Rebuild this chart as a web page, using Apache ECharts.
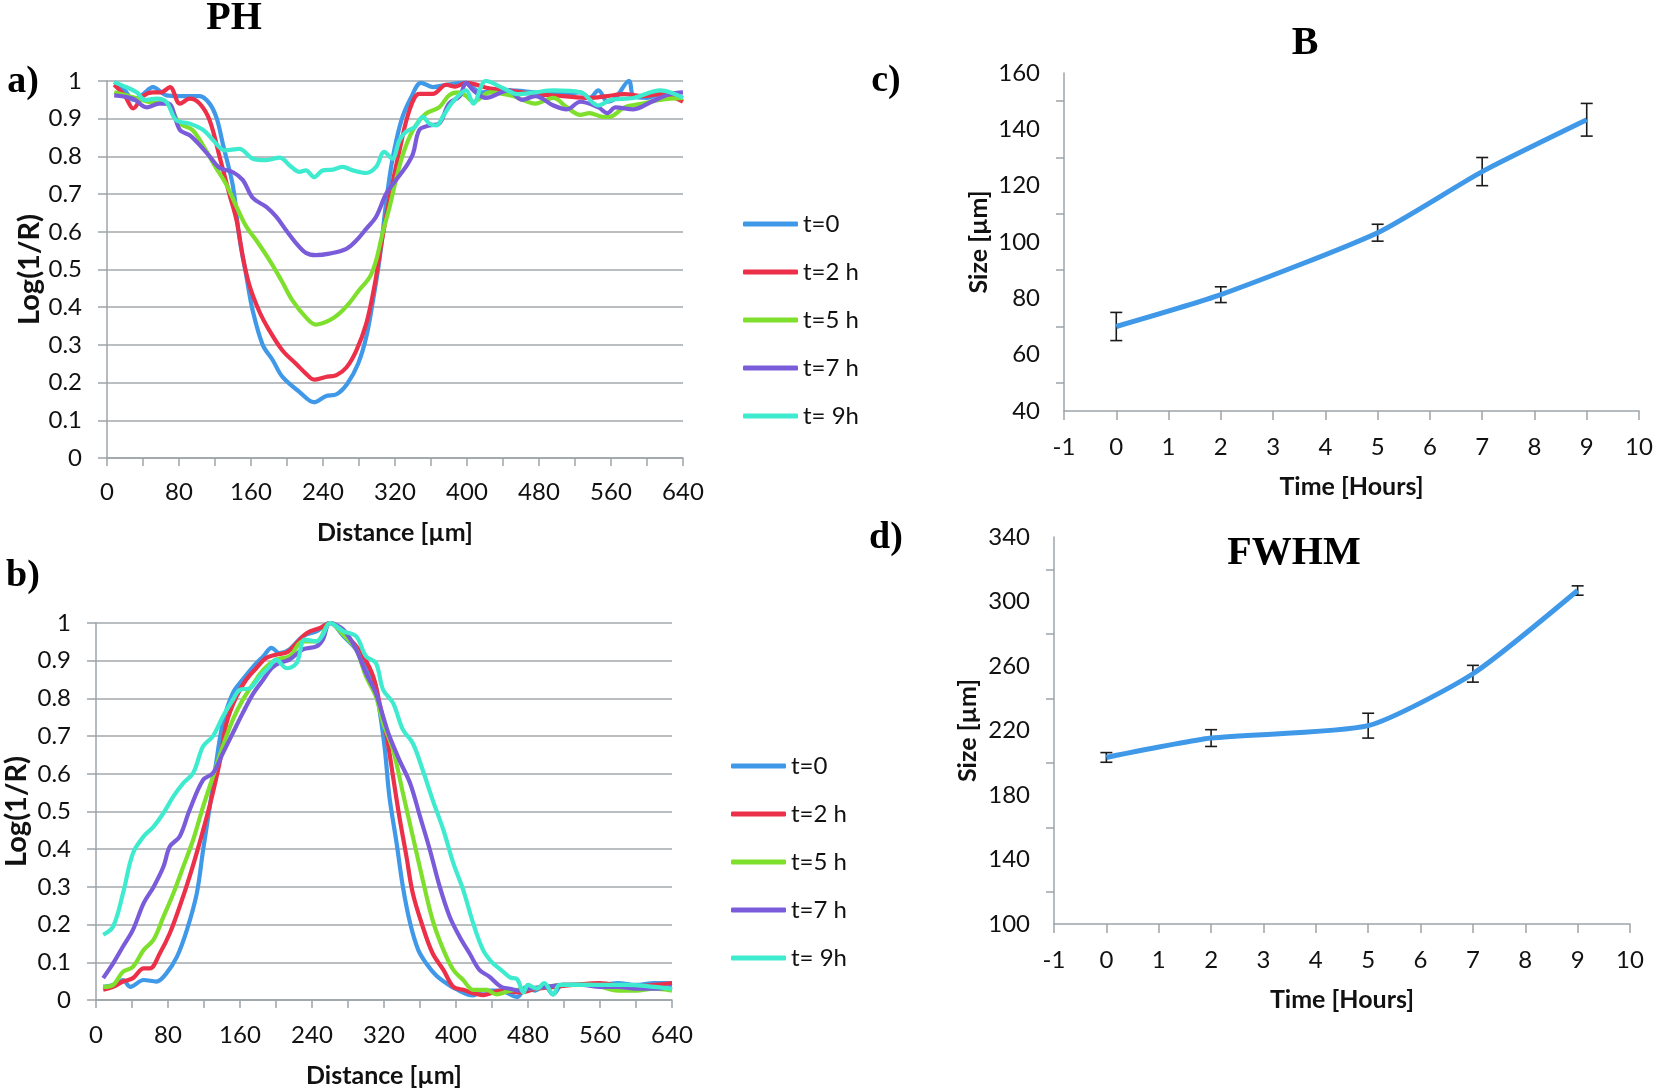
<!DOCTYPE html>
<html><head><meta charset="utf-8">
<script src="https://cdn.jsdelivr.net/npm/echarts@6/dist/echarts.min.js"></script>
<style>html,body{margin:0;padding:0;background:#fff}#c{width:1658px;height:1092px}</style>
</head><body><div id="c"></div>
<script>
const seriesNames = ['t=0', 't=2 h', 't=5 h', 't=7 h', 't= 9h'];
const seriesColors = ['#3F99E8', '#EC3049', '#7EE02C', '#7A5CDB', '#3EEBCF'];

// ---- Panel a (PH) ----
const phX_t0 = [8,20,29,40,51,66,80,92,103,114,122,129,140,147,155,162,173,184,195,214,230,243,255,267,279,288,295,303,310,317,327,338,349,362,377,397,416,446,476,506,526,536,546,556,565,580,585,600,615,640];
const phY_t0 = [0.997,0.975,0.95,0.965,0.984,0.962,0.96,0.96,0.96,0.94,0.9,0.83,0.72,0.586,0.48,0.39,0.30,0.26,0.215,0.175,0.148,0.164,0.169,0.197,0.25,0.32,0.41,0.53,0.675,0.79,0.895,0.957,0.995,0.984,0.99,0.995,0.97,0.975,0.97,0.965,0.97,0.955,0.975,0.945,0.955,1.0,0.96,0.955,0.965,0.955];
const phX_t2 = [8,20,29,40,51,60,70,81,92,103,114,125,136,144,151,158,169,180,195,210,221,230,243,255,266,277,288,297,305,314,325,336,347,362,377,387,399,426,446,476,506,536,556,575,595,615,640];
const phY_t2 = [0.99,0.96,0.927,0.96,0.97,0.97,0.984,0.94,0.953,0.94,0.896,0.80,0.70,0.63,0.533,0.46,0.39,0.34,0.285,0.25,0.224,0.208,0.215,0.22,0.24,0.285,0.356,0.454,0.57,0.69,0.816,0.922,0.966,0.966,0.99,0.985,0.995,0.98,0.975,0.965,0.96,0.955,0.96,0.965,0.96,0.965,0.945];
const phX_t5 = [8,29,47,66,81,95,110,121,132,144,155,166,181,194,206,221,232,247,258,269,280,292,299,306,314,321,329,340,354,369,380,390,399,407,426,451,476,496,511,526,536,551,558,575,595,615,640];
const phY_t5 = [0.97,0.957,0.944,0.94,0.887,0.87,0.816,0.77,0.728,0.666,0.613,0.577,0.523,0.47,0.418,0.373,0.354,0.365,0.383,0.41,0.445,0.48,0.524,0.595,0.666,0.737,0.807,0.87,0.913,0.93,0.962,0.97,0.96,0.945,0.97,0.96,0.94,0.955,0.93,0.91,0.915,0.905,0.905,0.93,0.94,0.95,0.955];
const phX_t7 = [8,29,44,58,68,81,92,103,114,125,140,151,162,177,188,199,210,221,232,247,266,277,288,299,310,321,332,340,347,358,369,380,392,399,407,421,446,461,476,496,511,526,546,556,565,585,605,625,640];
const phY_t7 = [0.962,0.953,0.93,0.94,0.94,0.87,0.856,0.83,0.80,0.77,0.758,0.737,0.69,0.666,0.64,0.604,0.57,0.544,0.538,0.542,0.555,0.577,0.608,0.64,0.70,0.737,0.772,0.807,0.87,0.882,0.887,0.94,0.96,0.995,0.975,0.955,0.975,0.95,0.96,0.935,0.925,0.945,0.93,0.915,0.93,0.925,0.945,0.965,0.97];
const phX_t9 = [8,21,33,42,55,66,77,92,107,118,131,147,162,177,192,203,214,221,230,240,251,262,273,288,299,308,317,325,332,342,351,358,366,373,384,399,407,421,441,456,476,496,526,546,560,585,615,640];
const phY_t9 = [0.997,0.984,0.97,0.95,0.953,0.944,0.896,0.887,0.87,0.843,0.816,0.82,0.794,0.79,0.797,0.776,0.759,0.763,0.745,0.763,0.765,0.772,0.763,0.756,0.772,0.812,0.794,0.843,0.865,0.878,0.905,0.887,0.882,0.905,0.944,0.975,0.94,1.0,0.98,0.965,0.97,0.975,0.97,0.935,0.95,0.955,0.975,0.955];

// ---- Panel b ----
const bX_t0 = [8,19,30,38,53,67,78,90,101,112,119,127,134,141,152,163,175,186,195,204,215,230,245,260,275,289,300,310,315,321,326,334,341,349,358,367,378,389,399,419,429,449,468,478,488,498,508,518,540,560,580,600,620,640];
const bY_t0 = [0.035,0.04,0.053,0.035,0.053,0.049,0.07,0.115,0.186,0.283,0.398,0.522,0.637,0.735,0.814,0.85,0.885,0.912,0.934,0.92,0.93,0.965,0.978,1.0,0.965,0.93,0.885,0.84,0.77,0.664,0.54,0.416,0.30,0.204,0.133,0.097,0.065,0.045,0.03,0.012,0.025,0.025,0.008,0.035,0.025,0.04,0.015,0.04,0.04,0.04,0.045,0.04,0.045,0.045];
const bX_t2 = [8,19,30,41,53,60,71,82,93,104,115,127,138,145,156,167,178,189,200,212,223,234,249,260,275,286,297,308,315,323,330,337,345,352,363,374,386,397,408,419,430,450,470,490,510,530,560,590,620,640];
const bY_t2 = [0.027,0.035,0.049,0.058,0.084,0.084,0.124,0.177,0.248,0.327,0.416,0.522,0.637,0.735,0.805,0.85,0.88,0.907,0.916,0.922,0.947,0.973,0.987,1.0,0.973,0.947,0.912,0.858,0.788,0.70,0.593,0.487,0.38,0.283,0.195,0.124,0.08,0.035,0.027,0.018,0.013,0.025,0.02,0.03,0.035,0.04,0.045,0.035,0.04,0.045];
const bX_t5 = [8,19,30,41,53,64,75,86,97,108,119,130,141,152,163,175,186,200,215,230,245,260,275,289,300,311,319,330,341,352,363,374,386,397,408,419,434,445,460,480,500,520,550,580,600,620,640];
const bY_t5 = [0.035,0.04,0.075,0.088,0.133,0.16,0.221,0.283,0.354,0.425,0.513,0.593,0.673,0.743,0.796,0.84,0.876,0.903,0.912,0.951,0.951,1.0,0.969,0.93,0.858,0.805,0.735,0.664,0.549,0.434,0.319,0.212,0.133,0.08,0.053,0.027,0.027,0.015,0.025,0.03,0.035,0.04,0.04,0.025,0.025,0.03,0.025];
const bX_t7 = [8,19,30,41,53,64,75,82,93,104,119,130,141,152,163,175,186,195,204,215,230,245,252,260,275,289,300,311,319,326,337,349,360,371,382,393,404,415,426,437,450,460,470,480,500,520,540,560,580,600,620,640];
const bY_t7 = [0.058,0.097,0.142,0.186,0.257,0.30,0.354,0.407,0.434,0.504,0.584,0.602,0.655,0.708,0.761,0.814,0.85,0.88,0.894,0.903,0.93,0.938,0.956,1.0,0.982,0.93,0.867,0.814,0.752,0.70,0.637,0.575,0.487,0.398,0.30,0.221,0.168,0.124,0.08,0.062,0.035,0.03,0.025,0.03,0.035,0.04,0.04,0.035,0.035,0.03,0.03,0.035];
const bX_t9 = [8,19,30,41,53,64,75,86,97,108,119,130,141,152,160,171,182,193,200,212,223,232,245,252,260,275,289,300,311,319,330,341,352,363,374,386,397,408,419,430,440,450,460,468,475,480,490,498,508,515,530,560,590,620,640];
const bY_t9 = [0.173,0.195,0.283,0.389,0.434,0.46,0.496,0.54,0.575,0.602,0.673,0.70,0.752,0.796,0.823,0.827,0.858,0.885,0.903,0.88,0.894,0.956,0.951,0.969,1.0,0.978,0.965,0.912,0.894,0.823,0.788,0.717,0.681,0.61,0.531,0.451,0.363,0.292,0.204,0.133,0.1,0.08,0.06,0.055,0.02,0.04,0.03,0.045,0.015,0.04,0.04,0.04,0.04,0.035,0.03];

// ---- Panel c (B) and d (FWHM) ----
const timeHours = [0, 2, 5, 7, 9];
const sizeB = [70, 81.3, 103.3, 125, 143.4];
const errB = [5, 2.8, 3, 5, 5.8];
const sizeFWHM = [203.3, 215.3, 223, 255.2, 306.8];
const errFWHM = [3, 5.2, 7.7, 5.2, 2.9];

const phXs = [phX_t0, phX_t2, phX_t5, phX_t7, phX_t9];
const phYs = [phY_t0, phY_t2, phY_t5, phY_t7, phY_t9];
const bXs = [bX_t0, bX_t2, bX_t5, bX_t7, bX_t9];
const bYs = [bY_t0, bY_t2, bY_t5, bY_t7, bY_t9];

const SANS = 'Lato';
const AX = '#9ca4a8';
const TXT = '#111';

function profileSeries(xs, ys, i, g) {
  return {
    type: 'line', name: seriesNames[i], xAxisIndex: g, yAxisIndex: g,
    data: xs.map((x, k) => [x, ys[k]]),
    smooth: 0.35, symbol: 'none', showSymbol: false,
    color: seriesColors[i],
    lineStyle: { width: 4.2, color: seriesColors[i] },
    emphasis: { disabled: true }
  };
}
function errSeries(g, xs, ys, es) {
  return {
    type: 'custom', xAxisIndex: g, yAxisIndex: g, silent: true,
    data: xs.map((x, k) => [x, ys[k], ys[k] - es[k], ys[k] + es[k]]),
    encode: { x: 0, y: [2, 3] },
    renderItem: function (params, api) {
      const x = api.value(0);
      const lo = api.coord([x, api.value(2)]);
      const hi = api.coord([x, api.value(3)]);
      const w = 6;
      const st = { stroke: '#1b1b1b', lineWidth: 1.6 };
      return { type: 'group', children: [
        { type: 'line', shape: { x1: lo[0], y1: lo[1], x2: hi[0], y2: hi[1] }, style: st },
        { type: 'line', shape: { x1: lo[0] - w, y1: lo[1], x2: lo[0] + w, y2: lo[1] }, style: st },
        { type: 'line', shape: { x1: hi[0] - w, y1: hi[1], x2: hi[0] + w, y2: hi[1] }, style: st }
      ]};
    }
  };
}
function sizeSeries(g, xs, ys) {
  return {
    type: 'line', name: g === 2 ? 'B' : 'FWHM', xAxisIndex: g, yAxisIndex: g,
    data: xs.map((x, k) => [x, ys[k]]), smooth: 0.2, symbol: 'none',
    color: '#3F99E8', lineStyle: { width: 5, color: '#3F99E8' }, z: 3
  };
}

const labelStyle = { fontSize: 24, fontFamily: SANS, color: TXT };
const nameStyle = { fontSize: 25, fontFamily: SANS, fontWeight: 'bold', color: TXT };

function distAxis(g, margin, gap) {
  return {
    gridIndex: g, type: 'value', min: 0, max: 640, interval: 40,
    axisLine: { show: true, lineStyle: { color: AX, width: 1.5 } },
    axisTick: { show: true, length: 8, lineStyle: { color: AX, width: 1.5 } },
    axisLabel: Object.assign({ margin: margin, formatter: v => (v % 80 === 0 ? String(v) : '') }, labelStyle),
    splitLine: { show: false },
    name: 'Distance [µm]', nameLocation: 'middle', nameGap: gap, nameTextStyle: nameStyle
  };
}
function logAxis(g, gap) {
  return {
    gridIndex: g, type: 'value', min: 0, max: 1, interval: 0.1,
    axisLine: { show: true, onZero: false, lineStyle: { color: AX, width: 1.5 } },
    axisTick: { show: true, length: 9, lineStyle: { color: AX, width: 1.5 } },
    axisLabel: Object.assign({ margin: 25 }, labelStyle),
    splitLine: { show: true, lineStyle: { color: '#a3a9ac', width: 1.5 } },
    name: 'Log(1/R)', nameLocation: 'middle', nameRotate: 90, nameGap: gap,
    nameTextStyle: Object.assign({}, nameStyle, { fontSize: 29 })
  };
}
function timeAxis(g) {
  return {
    gridIndex: g, type: 'value', min: -1, max: 10, interval: 1,
    axisLine: { show: true, onZero: false, lineStyle: { color: AX, width: 1.5 } },
    axisTick: { show: true, length: 9, lineStyle: { color: AX, width: 1.5 } },
    axisLabel: Object.assign({ margin: 24 }, labelStyle),
    splitLine: { show: false },
    name: 'Time [Hours]', nameLocation: 'middle', nameGap: 63, nameTextStyle: nameStyle
  };
}
function sizeAxis(g, min, max, step, gap) {
  const ticks = [];
  for (let v = min + step / 2; v < max; v += step) ticks.push(v);
  return {
    gridIndex: g, type: 'value', min: min, max: max, interval: step / 2,
    axisLine: { show: true, onZero: false, lineStyle: { color: AX, width: 1.5 } },
    axisTick: { show: true, length: 8, customValues: ticks, lineStyle: { color: AX, width: 1.5 } },
    axisLabel: Object.assign({ margin: 24, formatter: v => ((v - min) % step === 0 ? String(v) : '') }, labelStyle),
    splitLine: { show: false },
    name: 'Size [µm]', nameLocation: 'middle', nameRotate: 90, nameGap: gap, nameTextStyle: nameStyle
  };
}

const series = [];
for (let i = 0; i < 5; i++) series.push(profileSeries(phXs[i], phYs[i], i, 0));
for (let i = 0; i < 5; i++) series.push(profileSeries(bXs[i], bYs[i], i, 1));
series.push(errSeries(2, timeHours, sizeB, errB));
series.push(sizeSeries(2, timeHours, sizeB));
series.push(errSeries(3, timeHours, sizeFWHM, errFWHM));
series.push(sizeSeries(3, timeHours, sizeFWHM));

const legendBase = {
  data: seriesNames, orient: 'vertical', itemWidth: 55, itemHeight: 5, itemGap: 24,
  icon: 'roundRect', selectedMode: false,
  textStyle: { fontSize: 24, fontFamily: SANS, color: TXT, lineHeight: 24 }
};

function txt(s, x, y, size) {
  return { type: 'text', x: x, y: y, silent: true,
    style: { text: s, font: 'bold ' + size + 'px "Liberation Serif"', fill: '#000', align: 'center', verticalAlign: 'middle' } };
}

const chart = echarts.init(document.getElementById('c'), null, { renderer: 'canvas' });
chart.setOption({
  animation: false,
  backgroundColor: '#fff',
  grid: [
    { left: 107, top: 81, width: 576, height: 377, outerBoundsMode: 'none' },
    { left: 96, top: 623, width: 576, height: 377, outerBoundsMode: 'none' },
    { left: 1064, top: 73, width: 575, height: 338, outerBoundsMode: 'none' },
    { left: 1054, top: 537, width: 576, height: 387, outerBoundsMode: 'none' }
  ],
  xAxis: [distAxis(0, 22, 62), distAxis(1, 23, 63), timeAxis(2), timeAxis(3)],
  yAxis: [logAxis(0, 62), logAxis(1, 65), sizeAxis(2, 40, 160, 20, 73), sizeAxis(3, 100, 340, 40, 74)],
  legend: [
    Object.assign({ left: 738, top: 207 }, legendBase),
    Object.assign({ left: 726, top: 749 }, legendBase)
  ],
  graphic: [
    txt('PH', 234, 19, 40),
    txt('B', 1305, 44, 40),
    txt('FWHM', 1294, 554, 40),
    txt('a)', 23, 82, 38),
    txt('b)', 23, 576, 38),
    txt('c)', 886, 81, 38),
    txt('d)', 886, 538, 38)
  ],
  series: series
});
</script>
</body></html>
